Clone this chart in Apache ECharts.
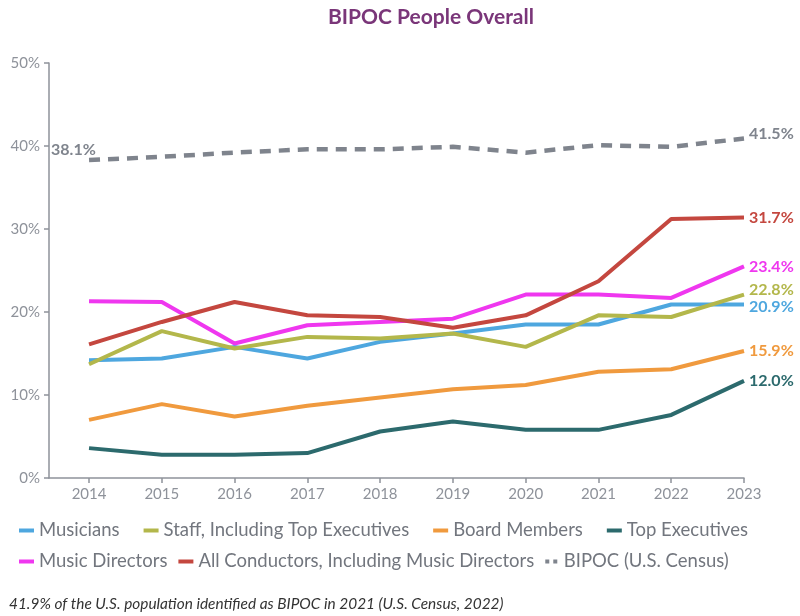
<!DOCTYPE html>
<html>
<head>
<meta charset="utf-8">
<script src="https://cdn.jsdelivr.net/npm/echarts@6/dist/echarts.min.js"></script>
<style>html,body{margin:0;padding:0;background:#fff}#c{width:800px;height:616px}</style>
</head>
<body>
<div id="c"></div>
<script>
const years = [2014, 2015, 2016, 2017, 2018, 2019, 2020, 2021, 2022, 2023];
const yTicks = [0, 10, 20, 30, 40, 50];
const titleText = 'BIPOC People Overall';
const footnote = '41.9% of the U.S. population identified as BIPOC in 2021 (U.S. Census, 2022)';

const musicians      = [14.2, 14.4, 15.8, 14.4, 16.4, 17.4, 18.5, 18.5, 20.9, 20.9];
const staff          = [13.7, 17.7, 15.6, 17.0, 16.8, 17.4, 15.8, 19.6, 19.4, 22.1];
const board          = [7.0, 8.9, 7.4, 8.7, 9.7, 10.7, 11.2, 12.8, 13.1, 15.3];
const topExecs       = [3.6, 2.8, 2.8, 3.0, 5.6, 6.8, 5.8, 5.8, 7.6, 11.7];
const musicDirectors = [21.3, 21.2, 16.2, 18.4, 18.8, 19.2, 22.1, 22.1, 21.7, 25.5];
const conductors     = [16.1, 18.8, 21.2, 19.6, 19.4, 18.1, 19.6, 23.7, 31.2, 31.4];
const bipocCensus    = [38.3, 38.7, 39.2, 39.6, 39.6, 39.9, 39.2, 40.1, 39.9, 40.9];

const seriesNames = ['Musicians', 'Staff, Including Top Executives', 'Board Members', 'Top Executives',
  'Music Directors', 'All Conductors, Including Music Directors', 'BIPOC (U.S. Census)'];
const endLabels = ['20.9%', '22.8%', '15.9%', '12.0%', '23.4%', '31.7%', '41.5%'];
const startLabel = '38.1%';

const colors = ['#4ea7df', '#b3b74b', '#f09a3e', '#2c6a6d', '#ef37ef', '#c4473f', '#7f848d'];
const seriesValues = [musicians, staff, board, topExecs, musicDirectors, conductors, bipocCensus];
const labelShift = [2, -5, 0, 0, 0, 0, -5];

const FONT = 'Lato, "Libre Franklin", Roboto, sans-serif';
const axisGray = '#8e929a';

const series = seriesValues.map((vals, i) => {
  const isCensus = i === 6;
  const s = {
    name: seriesNames[i],
    type: 'line',
    data: years.map((y, k) => [y, vals[k]]),
    symbol: 'none',
    color: colors[i],
    lineStyle: { width: isCensus ? 4.5 : 4, color: colors[i], type: isCensus ? [11, 8] : 'solid', cap: 'butt' },
    endLabel: {
      show: true,
      formatter: endLabels[i],
      color: colors[i],
      fontFamily: FONT,
      fontWeight: 'bold',
      fontSize: 16,
      distance: 5,
      offset: [0, labelShift[i]]
    },
    animation: false,
    z: 2 + i
  };
  if (isCensus) {
    s.markPoint = {
      symbol: 'circle',
      symbolSize: 0,
      data: [{ coord: [years[0], vals[0]], label: {
        show: true, formatter: startLabel, position: [-38, -18],
        color: colors[i], fontFamily: FONT, fontWeight: 'bold', fontSize: 16
      } }],
      animation: false
    };
  }
  return s;
});

const legendText = { fontFamily: FONT, fontSize: 18.5, color: '#72767e' };

const chart = echarts.init(document.getElementById('c'), null, { renderer: 'canvas' });
chart.setOption({
  animation: false,
  backgroundColor: '#ffffff',
  title: [
    { text: titleText, left: 323, top: 2, textStyle: { fontFamily: FONT, fontWeight: 'bold', fontSize: 21, color: '#7a3679' } },
    { text: footnote, left: 4, top: 592, textStyle: { fontFamily: FONT, fontStyle: 'italic', fontWeight: 'normal', fontSize: 15.4, color: '#333333' } }
  ],
  grid: { left: 49, right: 56, top: 63, bottom: 138, containLabel: false },
  xAxis: {
    type: 'value',
    min: 2013.45,
    max: 2023,
    axisLine: { show: true, lineStyle: { color: axisGray, width: 1.5 } },
    axisTick: { show: true, length: 5, lineStyle: { color: axisGray, width: 1.5 }, customValues: years },
    axisLabel: { customValues: years, formatter: v => String(v), color: axisGray, fontFamily: FONT, fontSize: 15, margin: 9 },
    splitLine: { show: false }
  },
  yAxis: {
    type: 'value',
    min: yTicks[0],
    max: yTicks[yTicks.length - 1],
    interval: 10,
    axisLine: { show: true, lineStyle: { color: axisGray, width: 1.5 } },
    axisTick: { show: true, length: 5, lineStyle: { color: axisGray, width: 1.5 } },
    axisLabel: { formatter: '{value}%', color: axisGray, fontFamily: FONT, fontSize: 15, margin: 9 },
    splitLine: { show: false }
  },
  legend: [
    {
      left: 14, top: 516, itemWidth: 15, itemHeight: 4, itemGap: 24, icon: 'rect',
      textStyle: legendText,
      data: seriesNames.slice(0, 4)
    },
    {
      left: 14, top: 547, itemWidth: 15, itemHeight: 4, itemGap: 11, icon: 'rect',
      textStyle: legendText,
      data: [seriesNames[4], seriesNames[5], { name: seriesNames[6], icon: 'path://M0,0H4V4H0Z M8,0H12V4H8Z' }]
    }
  ],
  series: series
});
</script>
</body>
</html>
